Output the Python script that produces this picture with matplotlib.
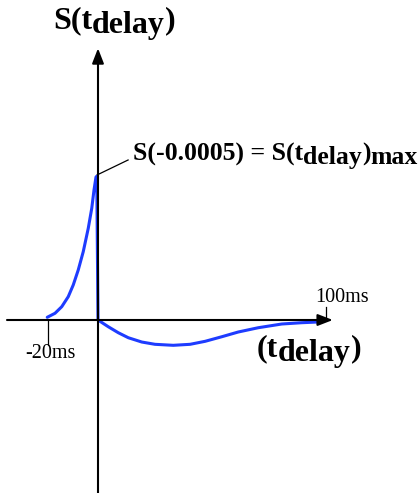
import numpy as np
import matplotlib
matplotlib.use("Agg")
import matplotlib.pyplot as plt
from matplotlib.transforms import IdentityTransform

# ---- data (t in ms, S normalised to peak = 1) ----
t_rise = [-20.3, -17.2, -14.5, -11.9, -9.9, -7.9, -5.9, -3.9, -2.5, -1.6, -0.8, -0.5, 0.0]
s_rise = [0.019, 0.047, 0.093, 0.163, 0.245, 0.35, 0.478, 0.641, 0.781, 0.909, 1.0, 1.005, 0.0]
t_fall = [0.0, 4.5, 8.9, 13.3, 19.2, 25.0, 33.0, 40.4, 47.0, 54.3, 61.5, 70.3, 80.6, 89.3, 96.6]
s_fall = [0.0, -0.047, -0.089, -0.124, -0.154, -0.170, -0.177, -0.170, -0.149, -0.117,
          -0.084, -0.054, -0.028, -0.019, -0.014]
tick_labels = ["-20ms", "100ms"]
tick_values = [-20, 100]

W, H = 419, 493
fig = plt.figure(figsize=(W / 100, H / 100), dpi=100)
ax = fig.add_axes([0, 0, 1, 1])
ax.set_axis_off()

k = 2.5 / 2.28
fwd = lambda x: np.where(np.asarray(x) < 0, np.asarray(x) * k, np.asarray(x))
inv = lambda y: np.where(np.asarray(y) < 0, np.asarray(y) / k, np.asarray(y))
ax.set_xscale("function", functions=(fwd, inv))
ax.set_xlim(-98 / 2.5, 321 / 2.28)
ax.set_ylim(-173 / 143, 320 / 143)

blue = "#1e3cff"
ax.plot(t_rise + t_fall[1:], s_rise + s_fall[1:], color=blue, lw=2.2,
        solid_joinstyle="round", solid_capstyle="round", zorder=3)

# axes with arrows
ax.annotate("", xy=(103, 0), xytext=(-36.4, 0),
            arrowprops=dict(arrowstyle="-|>,head_length=0.9,head_width=0.35",
                            color="black", lw=1.5, shrinkA=0, shrinkB=0))
ax.annotate("", xy=(0, 1.90), xytext=(0, -1.25),
            arrowprops=dict(arrowstyle="-|>,head_length=0.9,head_width=0.35",
                            color="black", lw=1.5, shrinkA=0, shrinkB=0))

# tick marks
ax.plot([tick_values[0], tick_values[0]], [0.0, -0.175], color="black", lw=0.9)
ax.plot([tick_values[1], tick_values[1]], [0.014, 0.09], color="black", lw=0.9)

# leader line for max
ax.plot([-0.4, 13.2], [1.014, 1.119], color="black", lw=0.9)

renderer = fig.canvas.get_renderer()


def rich(x, y_base, parts, size, weight="bold"):
    for s, dy in parts:
        txt = fig.text(x, H - (y_base + dy), s, transform=IdentityTransform(),
                       ha="left", va="baseline", fontfamily="Liberation Serif",
                       fontweight=weight, fontsize=size)
        bb = txt.get_window_extent(renderer)
        x = bb.x1


def centered(xc, y_base, s, size):
    fig.text(xc, H - y_base, s, transform=IdentityTransform(), ha="center",
             va="baseline", fontfamily="Liberation Serif", fontsize=size)


centered(50.5, 358, tick_labels[0], 14.5)
centered(342.5, 301.5, tick_labels[1], 14.5)

rich(53, 28.5, [("S(t", 0), ("delay", 5), (")", 0)], 23)
rich(256.5, 356.7, [("(t", 0), ("delay", 4), (")", 0)], 23)
rich(133.3, 160.7, [("S(-0.0005) = S(t", 0), ("delay", 3.5), (")", 0), ("max", 3.5)], 18.5)

fig.savefig("out.png", dpi=100)
